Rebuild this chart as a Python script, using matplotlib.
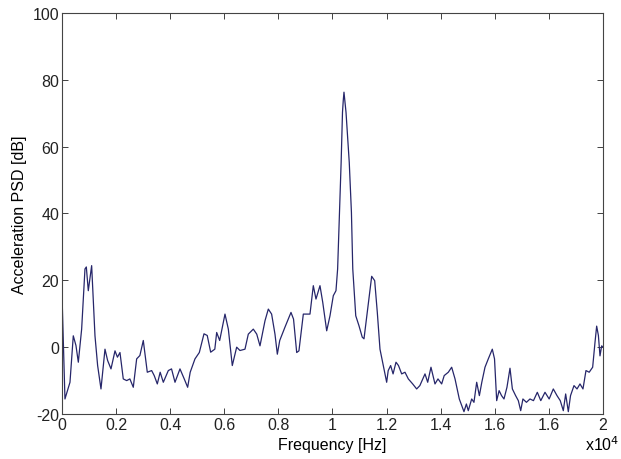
import numpy as np
import matplotlib.pyplot as plt

plt.rcParams['font.family'] = ['Liberation Sans', 'DejaVu Sans']
plt.rcParams['axes.unicode_minus'] = False

# 주파수 [Hz] 와 가속도 PSD [dB]
freq = [0, 110, 296, 418, 517, 604, 727, 850, 900, 973, 1097, 1220, 1318, 1442,
        1590, 1688, 1812, 1960, 2050, 2144, 2266, 2392, 2510, 2636, 2761, 2880,
        3006, 3154, 3315, 3410, 3524, 3630, 3746, 3931, 4050, 4178, 4362, 4520,
        4646, 4740, 4917, 5077, 5250, 5370, 5497, 5650, 5719, 5830, 6026, 6150,
        6296, 6458, 6580, 6765, 6888, 7073, 7200, 7320, 7505, 7628, 7750, 7874,
        7961, 8050, 8244, 8466, 8560, 8677, 8760, 8922, 9168, 9291, 9390, 9538,
        9640, 9786, 9908, 10030, 10129, 10190, 10260, 10320, 10370, 10400, 10425,
        10500, 10620, 10700, 10750, 10860, 10980, 11100, 11165, 11449, 11560,
        11657, 11756, 11879, 12003, 12060, 12150, 12240, 12348, 12440, 12558,
        12680, 12804, 12965, 13112, 13230, 13420, 13520, 13641, 13789, 13900,
        14036, 14130, 14282, 14406, 14530, 14688, 14861, 14950, 15020, 15146,
        15230, 15331, 15430, 15520, 15638, 15760, 15908, 15990, 16070, 16160,
        16250, 16340, 16450, 16562, 16650, 16770, 16870, 16958, 17040, 17170,
        17301, 17430, 17572, 17700, 17856, 18010, 18163, 18300, 18420, 18533,
        18620, 18718, 18800, 18928, 19040, 19150, 19260, 19371, 19490, 19618,
        19704, 19766, 19830, 19889, 19951, 20000]
psd = [16, -15.5, -10.5, 3.4, 0.5, -4.5, 5.4, 23.4, 24.0, 16.9, 24.4, 3.4, -5.5, -12.5,
       -0.6, -4, -6.5, -1.1, -3, -1.6, -9.5, -10, -9.5, -12, -3.5, -2.5,
       2, -7.5, -7, -8.5, -11, -7.5, -10.5, -7, -6.5, -10.5, -6.5, -9.5,
       -12, -7.5, -3.5, -1.6, 4, 3.5, -1.5, -0.6, 4.4, 2, 9.9, 5.4,
       -5.5, 0, -1, -0.6, 3.9, 5.4, 3.9, 0.4, 7.9, 11.4, 9.9, 3.9,
       -2.1, 2, 6, 10.4, 8.4, -1.6, -1.1, 9.9, 9.9, 18.4, 14.4, 18.4,
       13.4, 4.9, 9.4, 15.4, 16.9, 23.4, 40.4, 55.3, 70.3, 74, 76.3,
       70.3, 55.3, 40.4, 23.4, 9.4, 6.4, 3.0, 2.5, 21.2, 19.9,
       10.4, -0.6, -5.5, -10.5, -7, -5.5, -8, -4.5, -5.5, -8,
       -7.5, -9.5, -11, -12.5, -11.5, -8, -10.5, -6, -11, -9.5,
       -11, -8.5, -7.5, -6, -9.5, -15.5, -19.3, -17, -19, -15.5,
       -16.5, -10.5, -14.5, -10.5, -6, -3.5, -0.6, -3.5, -16, -13,
       -14.5, -15.5, -12, -6.3, -12.5, -14.5, -16, -19, -15.5, -16.5,
       -15.5, -16, -13.5, -16, -13.5, -15.5, -12.5, -14.5, -16, -19,
       -14, -19.3, -14.5, -11.5, -12.5, -11, -12.5, -7, -7.5, -6,
       1.4, 6.3, 3.5, -2.6, 0.4, 0]

xticks = [0, 2000, 4000, 6000, 8000, 10000, 12000, 14000, 16000, 18000, 20000]
xticklabels = ['0', '0.2', '0.4', '0.6', '0.8', '1', '1.2', '1.4', '1.6', '1.6', '2']
yticks = [-20, 0, 20, 40, 60, 80, 100]

fig = plt.figure(figsize=(6.21, 4.6), dpi=100)
ax = fig.add_axes([0.0998, 0.0978, 0.8712, 0.8718])
ax.plot(freq, psd, color='#26266a', linewidth=0.9)

ax.set_xlim(0, 20000)
ax.set_ylim(-20, 100)
ax.set_xticks(xticks)
ax.set_xticklabels(xticklabels)
ax.set_yticks(yticks)
ax.set_yticklabels([str(v) for v in yticks])
ax.tick_params(direction='in', top=True, right=True, length=4, width=0.6,
               labelsize=11.5, pad=2, colors='#222222')
for s in ax.spines.values():
    s.set_color('#444444')
    s.set_linewidth(0.8)

ax.set_xlabel('Frequency [Hz]', fontsize=11.5, labelpad=4)
ax.set_ylabel('Acceleration PSD [dB]', fontsize=11.5, labelpad=4)
fig.text(0.942, 0.012, r'x10$^{4}$', fontsize=11.5, ha='left', va='bottom')

fig.savefig('out.png', dpi=100)
